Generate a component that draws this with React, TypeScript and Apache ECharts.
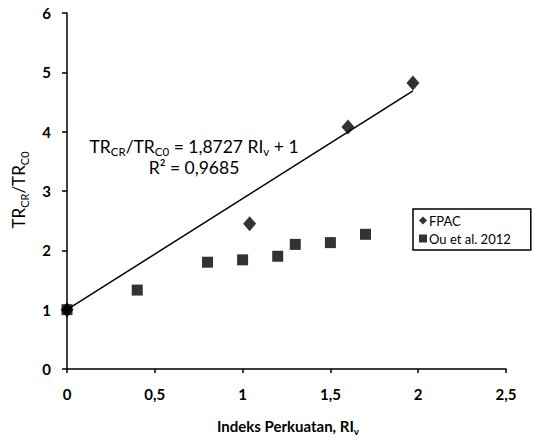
import React, { useEffect, useRef } from "react";
import * as echarts from "echarts";

// Axis ranges / tick steps
const xRange = [0, 2.5];
const xStep = 0.5;
const yRange = [0, 6];
const yStep = 1;

// FPAC measurements (RI_v, TR_CR/TR_C0)
const fpacX = [0, 1.04, 1.6, 1.97];
const fpacY = [1, 2.45, 4.08, 4.82];

// Ou et al. 2012 measurements
const ouX = [0, 0.4, 0.8, 1.0, 1.2, 1.3, 1.5, 1.7];
const ouY = [1, 1.33, 1.8, 1.84, 1.9, 2.1, 2.13, 2.27];

// Linear fit stated in the annotation
const fitSlope = 1.8727;
const fitIntercept = 1;
const fitR2 = "0,9685";
const fitXs = [0, 1.97];

const legendNames = ["FPAC", "Ou et al. 2012"];

const FONT = "Lato, 'Open Sans', sans-serif";

const comma = (v: number) => String(v).replace(".", ",");

export default function App() {
  const ref = useRef<HTMLDivElement>(null);

  useEffect(() => {
    if (!ref.current) return;
    const chart = echarts.init(ref.current, null, { renderer: "svg" });

    const fpac = fpacX.map((x, i) => [x, fpacY[i]]);
    const ou = ouX.map((x, i) => [x, ouY[i]]);
    const fit = fitXs.map((x) => [x, fitSlope * x + fitIntercept]);

    const subRich = {
      m: { fontFamily: FONT, fontSize: 17, color: "#000", lineHeight: 18, verticalAlign: "bottom" },
      s: { fontFamily: FONT, fontSize: 11, color: "#000", lineHeight: 18, verticalAlign: "bottom", padding: [0, 0, -3, 0] },
    };
    const noteRich = {
      m: { fontFamily: FONT, fontSize: 17.5, color: "#000", lineHeight: 21, verticalAlign: "bottom" },
      s: { fontFamily: FONT, fontSize: 11.5, color: "#000", lineHeight: 21, verticalAlign: "bottom", padding: [0, 0, -2, 0] },
    };

    chart.setOption({
      animation: false,
      backgroundColor: "#fff",
      grid: { left: 67, top: 13, width: 439, height: 356, containLabel: false },
      xAxis: {
        type: "value",
        min: xRange[0],
        max: xRange[1],
        interval: xStep,
        splitLine: { show: false },
        axisLine: { show: true, onZero: false, lineStyle: { color: "#000", width: 1.5 } },
        axisTick: { show: true, length: 4, lineStyle: { color: "#000", width: 1.5 } },
        axisLabel: {
          margin: 17,
          fontFamily: FONT,
          fontSize: 15,
          fontWeight: "bold",
          color: "#000",
          formatter: (v: number) => comma(v),
        },
      },
      yAxis: {
        type: "value",
        min: yRange[0],
        max: yRange[1],
        interval: yStep,
        splitLine: { show: false },
        axisLine: { show: true, onZero: false, lineStyle: { color: "#000", width: 1.5 } },
        axisTick: { show: true, length: 5, lineStyle: { color: "#000", width: 1.5 } },
        axisLabel: {
          margin: 16,
          fontFamily: FONT,
          fontSize: 15,
          fontWeight: "bold",
          color: "#000",
        },
      },
      legend: {
        orient: "vertical",
        left: 413,
        top: 209,
        data: [
          { name: legendNames[0], icon: "diamond" },
          { name: legendNames[1], icon: "rect" },
        ],
        itemWidth: 8,
        itemHeight: 8,
        itemGap: 5,
        padding: [5, 20, 5, 6],
        borderColor: "#000",
        borderWidth: 1.5,
        borderRadius: 0,
        textStyle: { fontFamily: FONT, fontSize: 13, color: "#000", padding: [0, 0, 0, -3] },
      },
      graphic: [
        {
          type: "text",
          x: 18,
          y: 190,
          rotation: Math.PI / 2,
          style: {
            text: "{m|TR}{s|CR}{m|/TR}{s|C0}",
            rich: subRich,
            align: "center",
            verticalAlign: "middle",
          },
        },
        {
          type: "text",
          x: 288,
          y: 424,
          style: {
            text: "{m|Indeks Perkuatan, RI}{s|v}",
            rich: {
              m: { ...subRich.m, fontSize: 15, fontWeight: "bold" },
              s: { ...subRich.s, fontSize: 10, fontWeight: "bold" },
            },
            align: "center",
            verticalAlign: "middle",
          },
        },
        {
          // fit equation and R² as one two-line block
          type: "text",
          x: 194,
          y: 155,
          style: {
            text:
              "{m|TR}{s|CR}{m|/TR}{s|C0}{m| = " +
              comma(fitSlope) +
              " RI}{s|v}{m| + " +
              fitIntercept +
              "}\n{m|R² = " +
              fitR2 +
              "}",
            rich: noteRich,
            align: "center",
            verticalAlign: "middle",
          },
        },
      ],
      series: [
        {
          name: "fit",
          type: "line",
          data: fit,
          symbol: "none",
          lineStyle: { color: "#000", width: 1.5 },
          silent: true,
          z: 1,
        },
        {
          name: legendNames[1],
          type: "scatter",
          data: ou,
          symbol: "rect",
          symbolSize: 11,
          itemStyle: { color: "#000" },
          z: 2,
        },
        {
          name: legendNames[0],
          type: "scatter",
          data: fpac,
          symbol: "diamond",
          symbolSize: [13, 15],
          itemStyle: { color: "#000" },
          z: 3,
        },
      ],
    });

    return () => chart.dispose();
  }, []);

  return (
    <div
      ref={ref}
      style={{ position: "fixed", left: 0, top: 0, width: 535, height: 443, background: "#fff" }}
    />
  );
}
